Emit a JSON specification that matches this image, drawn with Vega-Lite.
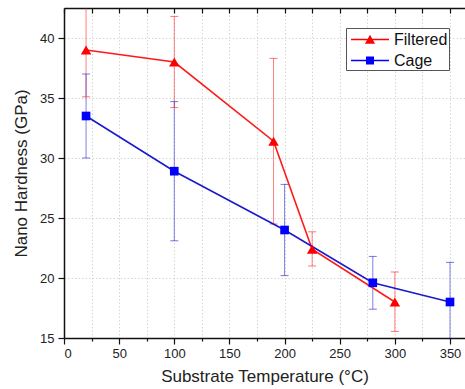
{
  "$schema": "https://vega.github.io/schema/vega-lite/v6.json",
  "width": 401,
  "height": 330,
  "autosize": {"type": "none"},
  "padding": {"left": 64, "top": 8, "right": 0, "bottom": 51},
  "background": "white",
  "config": {
    "view": {"stroke": null},
    "font": "Liberation Sans",
    "axis": {
      "labelFont": "Liberation Sans",
      "titleFont": "Liberation Sans",
      "labelFontSize": 13,
      "titleFontSize": 17,
      "titleFontWeight": "normal",
      "labelColor": "#222222",
      "titleColor": "#222222",
      "domainColor": "#111111",
      "domainWidth": 1.5,
      "tickColor": "#111111",
      "tickWidth": 1.2,
      "gridColor": "#d6d6d6",
      "gridDash": [1.5, 2],
      "gridWidth": 1
    },
    "legend": {"labelFont": "Liberation Sans"}
  },
  "data": {
    "values": [
      {"series": "Filtered", "t": 20, "h": 39.0, "lo": 35.1, "hi": 42.9},
      {"series": "Filtered", "t": 100, "h": 38.0, "lo": 34.2, "hi": 41.8},
      {"series": "Filtered", "t": 190, "h": 31.4, "lo": 24.5, "hi": 38.3},
      {"series": "Filtered", "t": 225, "h": 22.4, "lo": 21.0, "hi": 23.85},
      {"series": "Filtered", "t": 300, "h": 18.0, "lo": 15.55, "hi": 20.5},
      {"series": "Cage", "t": 20, "h": 33.5, "lo": 30.0, "hi": 37.0},
      {"series": "Cage", "t": 100, "h": 28.9, "lo": 23.1, "hi": 34.7},
      {"series": "Cage", "t": 200, "h": 24.0, "lo": 20.2, "hi": 27.8},
      {"series": "Cage", "t": 280, "h": 19.6, "lo": 17.4, "hi": 21.8},
      {"series": "Cage", "t": 350, "h": 18.0, "lo": 14.7, "hi": 21.3}
    ]
  },
  "resolve": {"axis": {"x": "independent"}},
  "layer": [
    {
      "mark": {"type": "rule", "strokeWidth": 1, "opacity": 0.55, "clip": true},
      "encoding": {
        "x": {
          "field": "t", "type": "quantitative",
          "scale": {"domain": [0, 363.6], "nice": false, "zero": false},
          "axis": {
            "values": [0, 25, 50, 75, 100, 125, 150, 175, 200, 225, 250, 275, 300, 325, 350],
            "labelExpr": "datum.value % 50 === 0 ? datum.label : ''",
            "tickSize": {"condition": {"test": "datum.value % 50 === 0", "value": 6}, "value": 3},
            "labelPadding": 3,
            "grid": true,
            "title": "Substrate Temperature (°C)",
            "titlePadding": 8
          }
        },
        "y": {
          "field": "lo", "type": "quantitative",
          "scale": {"domain": [15, 42.5], "nice": false, "zero": false},
          "axis": {
            "values": [15, 17.5, 20, 22.5, 25, 27.5, 30, 32.5, 35, 37.5, 40],
            "labelExpr": "datum.value % 5 === 0 ? datum.label : ''",
            "tickSize": {"condition": {"test": "datum.value % 5 === 0", "value": 6}, "value": 3},
            "labelPadding": 4,
            "grid": true,
            "title": "Nano Hardness (GPa)",
            "titlePadding": 9
          }
        },
        "y2": {"field": "hi"},
        "color": {"field": "series", "type": "nominal", "legend": null,
          "scale": {"domain": ["Cage", "Filtered"], "range": ["#1a1acc", "#ff1a1a"]}}
      }
    },
    {
      "mark": {"type": "tick", "orient": "horizontal", "size": 8, "thickness": 1, "opacity": 0.6, "clip": true},
      "encoding": {
        "x": {"field": "t", "type": "quantitative", "axis": {"orient": "top", "labels": false, "title": null, "grid": false, "tickSize": -5, "values": [0, 25, 50, 75, 100, 125, 150, 175, 200, 225, 250, 275, 300, 325, 350]}},
        "y": {"field": "lo", "type": "quantitative"},
        "color": {"field": "series", "type": "nominal", "legend": null}
      }
    },
    {
      "mark": {"type": "tick", "orient": "horizontal", "size": 8, "thickness": 1, "opacity": 0.6, "clip": true},
      "encoding": {
        "x": {"field": "t", "type": "quantitative", "axis": null},
        "y": {"field": "hi", "type": "quantitative"},
        "color": {"field": "series", "type": "nominal", "legend": null}
      }
    },
    {
      "mark": {"type": "line", "strokeWidth": 1.6},
      "encoding": {
        "x": {"field": "t", "type": "quantitative", "axis": null},
        "y": {"field": "h", "type": "quantitative"},
        "color": {"field": "series", "type": "nominal", "legend": null}
      }
    },
    {
      "transform": [{"filter": "datum.series === 'Filtered'"}],
      "mark": {"type": "point", "shape": "triangle-up", "filled": true, "size": 110, "opacity": 1, "color": "#ff0000"},
      "encoding": {
        "x": {"field": "t", "type": "quantitative", "axis": null},
        "y": {"field": "h", "type": "quantitative"}
      }
    },
    {
      "transform": [{"filter": "datum.series === 'Cage'"}],
      "mark": {"type": "point", "shape": "square", "filled": true, "size": 75, "opacity": 1, "color": "#0000ff"},
      "encoding": {
        "x": {"field": "t", "type": "quantitative", "axis": null},
        "y": {"field": "h", "type": "quantitative"}
      }
    },
    {
      "mark": {"type": "point", "filled": true, "size": 441, "fillOpacity": 0, "strokeOpacity": 0},
      "encoding": {
        "x": {"field": "t", "type": "quantitative", "axis": null},
        "y": {"field": "h", "type": "quantitative"},
        "fill": {"field": "series", "type": "nominal",
          "scale": {"domain": ["Filtered", "Cage"], "range": ["#ff0000", "#0000ff"]},
          "legend": {
            "title": null, "orient": "none", "legendX": 282, "legendY": 20,
            "symbolSize": 441, "symbolFillOpacity": 1, "symbolStrokeWidth": 0,
            "labelFontSize": 16, "labelColor": "#111111", "labelOffset": 22,
            "strokeColor": "#555555", "fillColor": "white",
            "padding": 1, "rowPadding": 2, "symbolOffset": 4
          }},
        "shape": {"field": "series", "type": "nominal",
          "scale": {"domain": ["Filtered", "Cage"], "range": [
            "M-1,-0.07H2.62V0.07H-1Z M0.33,0.4L0.81,-0.45L1.29,0.4Z",
            "M-1,-0.07H2.62V0.07H-1Z M0.43,-0.38H1.19V0.38H0.43Z"
          ]},
          "legend": {
            "title": null, "orient": "none", "legendX": 282, "legendY": 20,
            "symbolSize": 441, "symbolFillOpacity": 1, "symbolStrokeWidth": 0,
            "labelFontSize": 16, "labelColor": "#111111", "labelOffset": 22,
            "strokeColor": "#555555", "fillColor": "white",
            "padding": 1, "rowPadding": 2, "symbolOffset": 4
          }}
      }
    }
  ]
}
